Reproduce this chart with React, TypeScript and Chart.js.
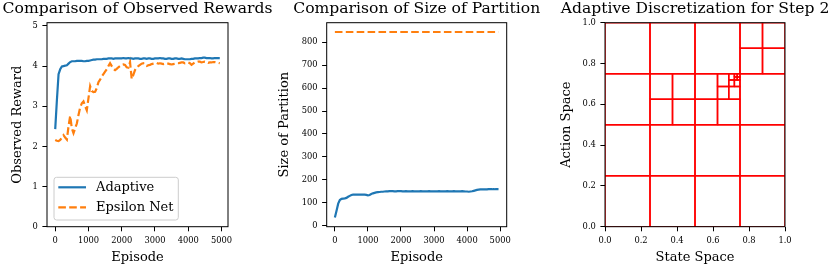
import React, { useEffect, useRef } from 'react';
import { Chart, registerables } from 'chart.js';

Chart.register(...registerables);

const FONT = '"DejaVu Serif", serif';
const BLUE = '#1f77b4';
const ORANGE = '#ff7f0e';
const RED = '#ff0000';

// Episode grid (x values), one sample every 50 episodes
const episodes: number[] = Array.from({ length: 100 }, (_, i) => i * 50);

// Tick labels
const episodeTicks = [0, 1000, 2000, 3000, 4000, 5000];
const rewardTicks = [0, 1, 2, 3, 4, 5];
const partitionTicks = [0, 100, 200, 300, 400, 500, 600, 700, 800];
const unitTicks = [0, 0.2, 0.4, 0.6, 0.8, 1.0];

const seriesNames = ['Adaptive', 'Epsilon Net'];

// Observed reward per episode
const rewardAdaptive = [
  2.43, 3.15, 3.8, 3.92, 3.99, 4.0, 4.01, 4.02, 4.06, 4.1,
  4.12, 4.12, 4.12, 4.13, 4.13, 4.13, 4.13, 4.12, 4.12, 4.13,
  4.13, 4.14, 4.15, 4.16, 4.16, 4.17, 4.17, 4.17, 4.17, 4.18,
  4.18, 4.18, 4.19, 4.19, 4.19, 4.18, 4.19, 4.19, 4.19, 4.19,
  4.19, 4.2, 4.19, 4.19, 4.2, 4.19, 4.19, 4.18, 4.19, 4.19,
  4.19, 4.18, 4.18, 4.19, 4.19, 4.18, 4.19, 4.19, 4.18, 4.18,
  4.19, 4.19, 4.19, 4.2, 4.19, 4.19, 4.18, 4.18, 4.19, 4.19,
  4.18, 4.18, 4.19, 4.19, 4.18, 4.18, 4.19, 4.18, 4.17, 4.17,
  4.17, 4.17, 4.18, 4.18, 4.19, 4.19, 4.19, 4.2, 4.2, 4.21,
  4.21, 4.2, 4.2, 4.2, 4.19, 4.19, 4.2, 4.2, 4.2, 4.2,
];
const rewardEpsilon = [
  2.16, 2.14, 2.13, 2.16, 2.22, 2.28, 2.22, 2.17, 2.5, 2.76,
  2.45, 2.33, 2.45, 2.57, 2.78, 2.97, 3.07, 3.12, 3.0, 2.9,
  3.2, 3.5, 3.38, 3.35, 3.36, 3.45, 3.6, 3.66, 3.74, 3.8,
  3.86, 3.92, 4.0, 4.07, 4.0, 3.93, 3.9, 3.93, 3.97, 4.0,
  4.03, 4.04, 4.03, 3.97, 3.96, 4.1, 3.68, 3.78, 3.9, 3.96,
  4.0, 4.03, 4.06, 4.07, 4.03, 4.0, 4.02, 4.03, 4.05, 4.06,
  4.07, 4.08, 4.06, 4.07, 4.06, 4.05, 4.06, 4.07, 4.06, 4.05,
  4.04, 4.05, 4.06, 4.07, 4.07, 4.08, 4.09, 4.09, 4.07, 4.08,
  4.09, 4.07, 4.03, 4.06, 4.09, 4.1, 4.11, 4.11, 4.09, 4.1,
  4.11, 4.1, 4.08, 4.09, 4.09, 4.1, 4.1, 4.09, 4.08, 4.07,
];

// Size of partition per episode
const partitionAdaptive = [
  36, 65, 96, 112, 117, 118, 119, 121, 126, 130,
  134, 135, 135, 135, 135, 135, 135, 135, 135, 134,
  132, 134, 138, 141, 143, 145, 146, 147, 148, 148,
  149, 150, 150, 151, 151, 151, 150, 150, 151, 151,
  151, 150, 150, 151, 150, 150, 150, 151, 150, 150,
  150, 150, 151, 150, 150, 150, 150, 151, 150, 150,
  150, 150, 150, 151, 150, 150, 150, 150, 151, 150,
  150, 150, 151, 150, 150, 150, 150, 151, 150, 149,
  149, 148, 149, 150, 152, 154, 156, 157, 158, 158,
  158, 158, 158, 159, 159, 159, 160, 159, 159, 159,
];
const partitionEpsilon = [
  845, 845, 845, 845, 845, 845, 845, 845, 845, 845,
  845, 845, 845, 845, 845, 845, 845, 845, 845, 845,
  845, 845, 845, 845, 845, 845, 845, 845, 845, 845,
  845, 845, 845, 845, 845, 845, 845, 845, 845, 845,
  845, 845, 845, 845, 845, 845, 845, 845, 845, 845,
  845, 845, 845, 845, 845, 845, 845, 845, 845, 845,
  845, 845, 845, 845, 845, 845, 845, 845, 845, 845,
  845, 845, 845, 845, 845, 845, 845, 845, 845, 845,
  845, 845, 845, 845, 845, 845, 845, 845, 845, 845,
  845, 845, 845, 845, 845, 845, 845, 845, 845, 845,
];

// Adaptive partition cells for step 2: [stateStart, actionStart, size]
const cells: [number, number, number][] = [
  [0, 0, 0.25], [0.25, 0, 0.25], [0.5, 0, 0.25], [0.75, 0, 0.25],
  [0, 0.25, 0.25], [0.25, 0.25, 0.25], [0.5, 0.25, 0.25], [0.75, 0.25, 0.25],
  [0, 0.5, 0.25], [0.75, 0.5, 0.25],
  [0, 0.75, 0.25], [0.25, 0.75, 0.25], [0.5, 0.75, 0.25],
  [0.75, 0.75, 0.125], [0.875, 0.75, 0.125], [0.75, 0.875, 0.125], [0.875, 0.875, 0.125],
  [0.25, 0.5, 0.125], [0.375, 0.5, 0.125], [0.25, 0.625, 0.125], [0.375, 0.625, 0.125],
  [0.5, 0.5, 0.125], [0.625, 0.5, 0.125], [0.5, 0.625, 0.125],
  [0.625, 0.625, 0.0625], [0.6875, 0.625, 0.0625], [0.625, 0.6875, 0.0625],
  [0.6875, 0.6875, 0.03125], [0.71875, 0.6875, 0.03125], [0.6875, 0.71875, 0.03125],
  [0.71875, 0.71875, 0.015625], [0.734375, 0.71875, 0.015625],
  [0.71875, 0.734375, 0.015625], [0.734375, 0.734375, 0.015625],
];

const H = 268;
const PLOT_TOP = 22.7;
const PLOT_BOTTOM = 226.7;
const LINE_W = 2.2;

const framePlugin = {
  id: 'frame',
  afterDatasetsDraw(chart: any, _args: any, opts: any) {
    const { ctx, chartArea: a } = chart;
    ctx.save();
    if (opts.legend) {
      const bx = a.left + 7;
      const by = a.bottom - 49.4;
      const bw = 124.3;
      const bh = 42.7;
      const r = 2.6;
      ctx.beginPath();
      ctx.moveTo(bx + r, by);
      ctx.lineTo(bx + bw - r, by);
      ctx.quadraticCurveTo(bx + bw, by, bx + bw, by + r);
      ctx.lineTo(bx + bw, by + bh - r);
      ctx.quadraticCurveTo(bx + bw, by + bh, bx + bw - r, by + bh);
      ctx.lineTo(bx + r, by + bh);
      ctx.quadraticCurveTo(bx, by + bh, bx, by + bh - r);
      ctx.lineTo(bx, by + r);
      ctx.quadraticCurveTo(bx, by, bx + r, by);
      ctx.closePath();
      ctx.fillStyle = 'rgba(255,255,255,0.8)';
      ctx.fill();
      ctx.strokeStyle = '#cccccc';
      ctx.lineWidth = 1;
      ctx.stroke();
      chart.data.datasets.forEach((ds: any, i: number) => {
        const y = by + 10 + i * 20;
        ctx.beginPath();
        ctx.setLineDash(ds.borderDash || []);
        ctx.strokeStyle = ds.borderColor;
        ctx.lineWidth = ds.borderWidth;
        ctx.moveTo(bx + 4.3, y);
        ctx.lineTo(bx + 32, y);
        ctx.stroke();
        ctx.setLineDash([]);
        ctx.fillStyle = '#000';
        ctx.font = `13px ${FONT}`;
        ctx.textAlign = 'left';
        ctx.textBaseline = 'middle';
        ctx.fillText(ds.label, bx + 42, y + 0.5);
      });
    }
    ctx.strokeStyle = '#000';
    ctx.lineWidth = 1;
    ctx.strokeRect(a.left, a.top, a.right - a.left, a.bottom - a.top);
    ctx.fillStyle = '#000';
    ctx.font = `15.6px ${FONT}`;
    ctx.textAlign = 'center';
    ctx.textBaseline = 'alphabetic';
    ctx.fillText(opts.title, (a.left + a.right) / 2, opts.titleY);
    ctx.restore();
  },
};

function makeAxis(
  min: number,
  max: number,
  ticks: number[],
  title: string,
  size: number,
  titlePad: any,
  fmt?: (v: number) => string,
) {
  return {
    type: 'linear',
    min,
    max,
    afterBuildTicks: (s: any) => {
      s.ticks = ticks.map((v) => ({ value: v }));
    },
    afterFit: (s: any) => {
      if (s.isHorizontal()) s.height = size;
      else s.width = size;
    },
    grid: {
      display: true,
      drawOnChartArea: false,
      drawTicks: true,
      tickLength: 4.6,
      tickWidth: 1,
      tickColor: '#000',
    },
    border: { display: false },
    ticks: {
      color: '#000',
      autoSkip: false,
      maxRotation: 0,
      padding: 4.6,
      font: { family: FONT, size: 8.3 },
      callback: (v: any) => (fmt ? fmt(Number(v)) : String(v)),
    },
    title: {
      display: true,
      text: title,
      color: '#000',
      font: { family: FONT, size: 13 },
      padding: titlePad,
    },
  };
}

function pts(xs: number[], ys: number[]) {
  return xs.map((x, i) => ({ x, y: ys[i] }));
}

function ChartBox(props: { left: number; width: number; config: any }) {
  const ref = useRef<HTMLCanvasElement>(null);
  useEffect(() => {
    if (!ref.current) return;
    const chart = new Chart(ref.current, props.config);
    return () => chart.destroy();
  }, []);
  return (
    <canvas
      ref={ref}
      width={props.width}
      height={H}
      style={{ position: 'absolute', left: props.left, top: 0, width: props.width, height: H }}
    />
  );
}

function commonOptions(rightPad: number, title: string, legend: boolean, scales: any) {
  return {
    responsive: false,
    animation: false,
    devicePixelRatio: 1,
    layout: { padding: { left: 0, top: PLOT_TOP, right: rightPad, bottom: 0 } },
    plugins: {
      legend: { display: false },
      tooltip: { enabled: false },
      frame: { title, titleY: 12.5, legend },
    },
    elements: { point: { radius: 0 }, line: { tension: 0 } },
    scales,
  };
}

const xAxisH = H - PLOT_BOTTOM;

const rewardConfig = {
  type: 'line',
  data: {
    datasets: [
      { label: seriesNames[0], data: pts(episodes, rewardAdaptive), borderColor: BLUE, borderWidth: LINE_W, pointRadius: 0 },
      { label: seriesNames[1], data: pts(episodes, rewardEpsilon), borderColor: ORANGE, borderWidth: LINE_W, borderDash: [7.6, 3.3], pointRadius: 0 },
    ],
  },
  options: commonOptions(290 - 228, 'Comparison of Observed Rewards', true, {
    x: makeAxis(-247.5, 5197.5, episodeTicks, 'Episode', xAxisH, { top: 0, bottom: 2.7 }),
    y: makeAxis(0, 5.08, rewardTicks, 'Observed Reward', 47, { top: 9.7, bottom: 0 }),
  }),
  plugins: [framePlugin],
};

const partitionConfig = {
  type: 'line',
  data: {
    datasets: [
      { label: seriesNames[0], data: pts(episodes, partitionAdaptive), borderColor: BLUE, borderWidth: LINE_W, pointRadius: 0 },
      { label: seriesNames[1], data: pts(episodes, partitionEpsilon), borderColor: ORANGE, borderWidth: LINE_W, borderDash: [7.6, 3.3], pointRadius: 0 },
    ],
  },
  options: commonOptions(290 - 236.7, 'Comparison of Size of Partition', false, {
    x: makeAxis(-247.5, 5197.5, episodeTicks, 'Episode', xAxisH, { top: 0, bottom: 2.7 }),
    y: makeAxis(-4.5, 885.5, partitionTicks, 'Size of Partition', 56.7, { top: 7.2, bottom: 0 }),
  }),
  plugins: [framePlugin],
};

const discretConfig = {
  type: 'scatter',
  data: {
    datasets: cells.map(([x, y, s]) => ({
      data: [
        { x, y },
        { x: x + s, y },
        { x: x + s, y: y + s },
        { x, y: y + s },
        { x, y },
      ],
      showLine: true,
      borderColor: RED,
      borderWidth: 1.5,
      pointRadius: 0,
      fill: false,
    })),
  },
  options: commonOptions(45, 'Adaptive Discretization for Step 2', false, {
    x: makeAxis(0, 1, unitTicks, 'State Space', xAxisH, { top: 0, bottom: 2.7 }, (v) => v.toFixed(1)),
    y: makeAxis(0, 1, unitTicks, 'Action Space', 60, { top: 13.9, bottom: 0 }, (v) => v.toFixed(1)),
  }),
  plugins: [framePlugin],
};

export default function App() {
  return (
    <div style={{ position: 'absolute', left: 0, top: 0, width: 830, height: H, background: '#fff' }}>
      <ChartBox left={0} width={290} config={rewardConfig} />
      <ChartBox left={270} width={290} config={partitionConfig} />
      <ChartBox left={545} width={285} config={discretConfig} />
    </div>
  );
}
